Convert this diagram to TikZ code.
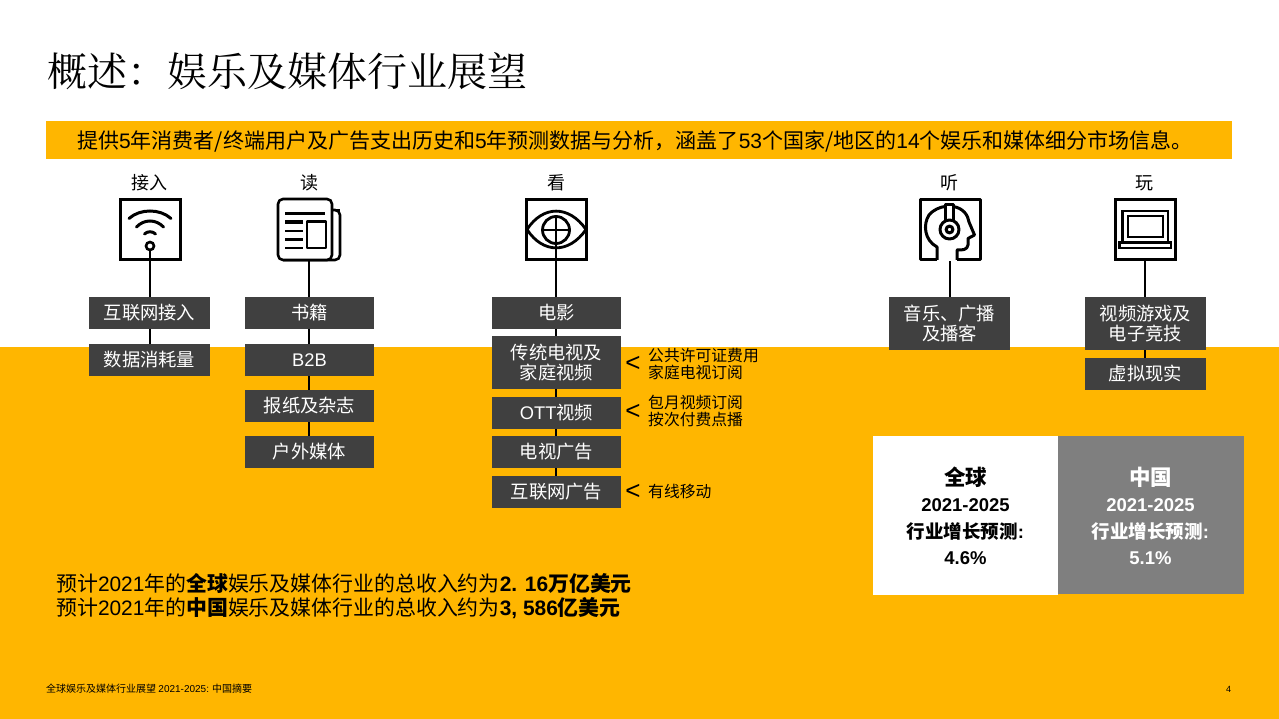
\documentclass[tikz,border=0pt]{standalone}
\usepackage{fontspec}
\setmainfont{Noto Sans CJK SC}
\newfontfamily\la{Liberation Sans}
\newfontfamily\ttl{Noto Serif CJK SC}
\definecolor{orangeb}{HTML}{FFB600}
\definecolor{darkb}{HTML}{404040}
\definecolor{grayb}{HTML}{7F7F7F}
\tikzset{
  x=1pt,y=-1pt,
  cat/.style={inner sep=0pt,font=\fontsize{18}{20}\selectfont,text=black},
  bx/.style={fill=darkb,text=white,inner sep=0pt,align=center,font=\fontsize{18.3}{20}\selectfont},
  note/.style={inner sep=0pt,anchor=west,align=left,font=\fontsize{15.8}{17}\selectfont},
  ic/.style={draw=black,line width=3pt,minimum size=60pt,inner sep=0pt,fill=white},
  wire/.style={draw=black,line width=2pt},
  icl/.style={draw=black,line width=3pt},
  pan/.style={inner sep=0pt,align=center,font=\fontsize{18.5}{26.5}\selectfont\bfseries},
  lt/.style={inner sep=0pt,font=\fontsize{26}{26}\selectfont\la},
}
\newcommand{\boxat}[6]{\node[bx,minimum width=#4 pt,minimum height=#5 pt] (#1) at (#2,#3) {#6};}
\begin{document}
\begin{tikzpicture}
\useasboundingbox (0,0) rectangle (1279,719);
\fill[white] (0,0) rectangle (1279,719);
\fill[orangeb] (0,347) rectangle (1279,719);
\node[inner sep=0pt,anchor=west,font=\fontsize{40}{44}\selectfont\ttl] (title) at (47,71) {概述：娱乐及媒体行业展望};
\fill[orangeb] (46,121) rectangle (1232,159);
\node[inner sep=0pt,font=\fontsize{21}{24}\selectfont] (intro) at (635,141) {提供{\la 5}年消费者/终端用户及广告支出历史和{\la 5}年预测数据与分析，涵盖了{\la 53}个国家/地区的{\la 14}个娱乐和媒体细分市场信息。};
% categories
\node[cat] (c1) at (149.5,183) {接入};
\node[cat] (c2) at (309,183) {读};
\node[cat] (c3) at (556,183) {看};
\node[cat] (c4) at (949.5,183) {听};
\node[cat] (c5) at (1144.5,183) {玩};
% icons
\node[ic] (i1) at (150,229.5) {};
\coordinate (i2) at (309,260);
\node[ic] (i3) at (556,229.5) {};
\coordinate (i4) at (950,261);
\node[ic] (i5) at (1145.5,229.5) {};
\coordinate (i5c) at (1145,261);
% boxes
\boxat{a1}{149.5}{313}{121}{32}{互联网接入}
\boxat{a2}{149.5}{360}{121}{32}{数据消耗量}
\boxat{b1}{309.5}{313}{129}{32}{书籍}
\boxat{b2}{309.5}{360}{129}{32}{\la B2B}
\boxat{b3}{309.5}{406}{129}{32}{报纸及杂志}
\boxat{b4}{309.5}{452}{129}{32}{户外媒体}
\boxat{d1}{556.5}{313}{129}{32}{电影}
\boxat{d2}{556.5}{362.5}{129}{53}{传统电视及\\家庭视频}
\boxat{d3}{556.5}{413}{129}{32}{{\la OTT}视频}
\boxat{d4}{556.5}{452}{129}{32}{电视广告}
\boxat{d5}{556.5}{492}{129}{32}{互联网广告}
\boxat{e1}{949.5}{323.5}{121}{53}{音乐、广播\\及播客}
\boxat{f1}{1145.5}{323.5}{121}{53}{视频游戏及\\电子竞技}
\boxat{f2}{1145.5}{374}{121}{32}{虚拟现实}
% wifi icon
\begin{scope}[icl,line cap=round]
\draw (129,218.5) .. controls (140,208.5) and (160,208.5) .. (171,218.5);
\draw (136.5,227) .. controls (144,219) and (156,219) .. (163.5,227);
\draw (144.5,234) .. controls (147.5,231) and (152.5,231) .. (155.5,234);
\end{scope}
\node[draw=black,line width=2.6pt,fill=white,circle,minimum size=8pt,inner sep=0pt] (w1) at (150,246) {};
% newspaper
\begin{scope}[line width=2.6pt,line join=round]
\draw[rounded corners=5pt] (332,210) -- (340,210) -- (340,260) -- (283,260);
\draw (332,210) -- (340,210);
\draw[fill=white,rounded corners=5pt] (278,199) -- (278,260) -- (332,260) -- (332,199) -- cycle;
\draw (285,213.5) -- (325,213.5);
\draw[line width=3.6pt] (285,222) -- (303,222);
\draw (285,231) -- (303,231);
\draw (285,239.5) -- (303,239.5);
\draw (285,248) -- (303,248);
\draw (307,221.5) rectangle (326,248);
\end{scope}
% eye
\begin{scope}[icl,line width=2.8pt]
\draw (527,229.5) .. controls (543,205) and (569,205) .. (586,229.5) .. controls (569,254) and (543,254) .. (527,229.5) -- cycle;
\draw (542.5,230) -- (569.5,230);
\draw (556,216.5) -- (556,243.5);
\end{scope}
\node[draw=black,line width=2.8pt,circle,minimum size=27pt,inner sep=0pt] (e2) at (556,230) {};
% head with headphones
\begin{scope}[line width=3pt,line join=round]
\draw (937,260) -- (920,260) -- (920,199.5) -- (980.5,199.5) -- (980.5,260) -- (957,260);
\draw (937,260) -- (937,247) .. controls (924,240) and (923,224) .. (929,215) .. controls (933,210) and (940,207) .. (945,206.5);
\draw (953,206.5) .. controls (963,208) and (968,215) .. (969,222) -- (974.5,235) -- (968,238.5) -- (968,245) .. controls (967,250) and (963,250) .. (957,250) -- (957,260);
\draw (945,222) -- (945,205) -- (953,205) -- (953,222);
\draw[fill=white] (949.5,229.5) circle (9.5pt);
\draw (949.5,229.5) circle (3.4pt);
\end{scope}
% laptop
\begin{scope}[line width=2.6pt]
\draw (1122.5,211) rectangle (1168,242.5);
\draw (1128,216) rectangle (1163,237);
\draw (1119.5,242.5) rectangle (1171,248);
\end{scope}
% connectors
\draw[wire] (w1.south) -- (w1.south |- a1.north);
\draw[wire] (w1.south |- a1.south) -- (w1.south |- a2.north);
\draw[wire] (i2) -- (i2 |- b1.north);
\draw[wire] (i2 |- b1.south) -- (i2 |- b2.north);
\draw[wire] (i2 |- b2.south) -- (i2 |- b3.north);
\draw[wire] (i2 |- b3.south) -- (i2 |- b4.north);
\draw[wire] (e2.south) -- (e2.south |- d1.north);
\draw[wire] (e2.south |- d1.south) -- (e2.south |- d2.north);
\draw[wire] (e2.south |- d2.south) -- (e2.south |- d3.north);
\draw[wire] (e2.south |- d3.south) -- (e2.south |- d4.north);
\draw[wire] (e2.south |- d4.south) -- (e2.south |- d5.north);
\draw[wire] (i4) -- (i4 |- e1.north);
\draw[wire] (i5c) -- (i5c |- f1.north);
\draw[wire] (i5c |- f1.south) -- (i5c |- f2.north);
% notes
\node[lt] (l1) at (633,364) {<};
\node[lt] (l2) at (633,411.5) {<};
\node[lt] (l3) at (633,492) {<};
\node[note] (n1) at (648,364.5) {公共许可证费用\\家庭电视订阅};
\node[note] (n2) at (648,410.5) {包月视频订阅\\按次付费点播};
\node[note] (n3) at (648,492) {有线移动};
% panels
\fill[white] (873,436) rectangle (1058,595);
\fill[grayb] (1058,436) rectangle (1244,594);
\node[pan,text=black] (p1) at (965.5,516) {{\fontsize{21.5}{27}\selectfont 全球}\\{\la\bfseries 2021-2025}\\行业增长预测{\la\bfseries :}\\{\la\bfseries 4.6\%}};
\node[pan,text=white] (p2) at (1150.5,516) {{\fontsize{21.5}{27}\selectfont 中国}\\{\la\bfseries 2021-2025}\\行业增长预测{\la\bfseries :}\\{\la\bfseries 5.1\%}};
% summary
\node[inner sep=0pt,anchor=west,font=\fontsize{20.9}{24}\selectfont] (s1) at (56,583) {预计{\la 2021}年的{\bfseries 全球}娱乐及媒体行业的总收入约为{\bfseries\la 2. 16}{\bfseries 万亿美元}};
\node[inner sep=0pt,anchor=west,font=\fontsize{20.9}{24}\selectfont] (s2) at (56,608) {预计{\la 2021}年的{\bfseries 中国}娱乐及媒体行业的总收入约为{\bfseries\la 3, 586}{\bfseries 亿美元}};
% footer
\node[inner sep=0pt,anchor=west,font=\fontsize{10}{12}\selectfont] (ft) at (46,689) {全球娱乐及媒体行业展望 {\la 2021-2025:} 中国摘要};
\node[inner sep=0pt,font=\fontsize{9}{12}\selectfont\la] (pg) at (1228.5,689) {4};
\end{tikzpicture}
\end{document}
